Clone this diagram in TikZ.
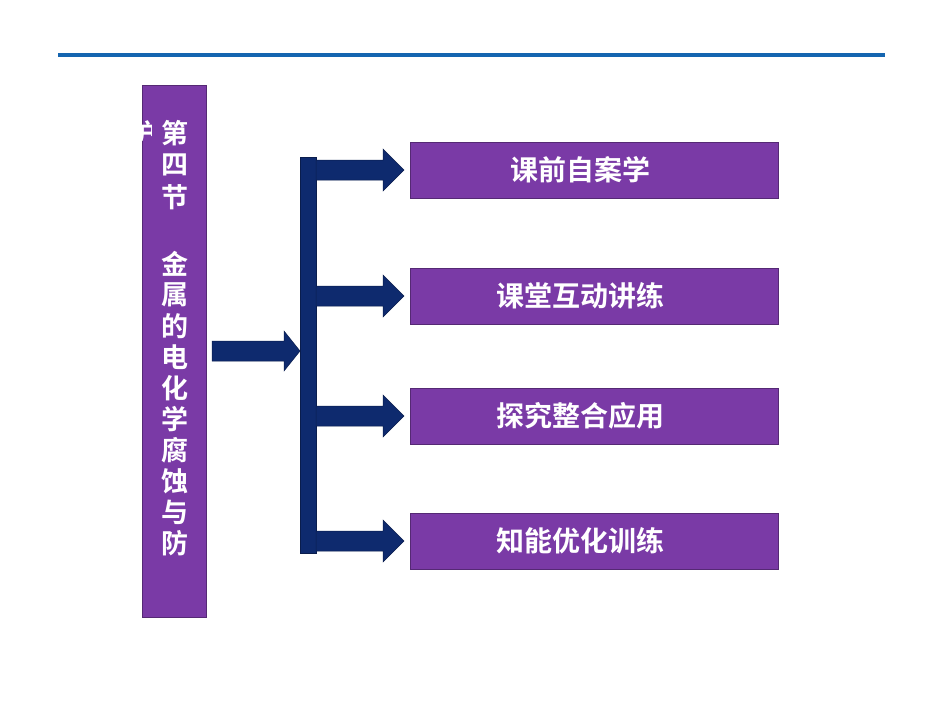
\documentclass[tikz,border=0pt]{standalone}
\usepackage{fontspec}
\newfontfamily\cjk{Noto Sans CJK SC Bold}
\definecolor{pur}{HTML}{7A3AA6}
\definecolor{navy}{HTML}{0E2A6E}
\definecolor{topblue}{HTML}{1565B0}
\begin{document}
\begin{tikzpicture}[x=1pt,y=-1pt,
  box/.style={fill=pur,draw=pur!70!black,line width=0.8pt,minimum width=368pt,minimum height=56pt,inner sep=0pt},
  lbl/.style={text=white,font=\cjk\fontsize{28}{28}\selectfont,inner sep=0pt},
  ch/.style={text=white,font=\cjk\fontsize{27}{27}\selectfont,inner sep=0pt},
  arr/.style={fill=navy,draw=navy!70!black,line width=0.5pt}]
\useasboundingbox (0,0) rectangle (950,713);
\draw[topblue,line width=3.5pt] (58,55) -- (885,55);
\node[fill=pur,draw=pur!70!black,minimum width=64pt,minimum height=532pt,inner sep=0pt,anchor=north west] (left) at (142,85) {};
\foreach \c/\y in {第/133,四/165,节/197,金/264,属/295,的/326,电/357,化/388,学/419,腐/450,蚀/481,与/512,防/543}
  \node[ch] at (175,\y) {\c};
\begin{scope}
\clip (138,85) rectangle (151,140);
\node[ch] (hu) at (143,133) {护};
\end{scope}
\draw[arr] (212,341) -- (284,341) -- (284,331) -- (300,351) -- (284,371) -- (284,361) -- (212,361) -- cycle;
\fill[navy] (300,157) rectangle (316,553);
\draw[navy!70!black,line width=0.5pt] (300,157) rectangle (316,553);
\foreach \y/\n/\t in {170/b1/课前自案学,296/b2/课堂互动讲练,416/b3/探究整合应用,541/b4/知能优化训练}{
  \draw[arr] (316,\y-10) -- (383,\y-10) -- (383,\y-21) -- (404,\y) -- (383,\y+21) -- (383,\y+10) -- (316,\y+10) -- cycle;
  \node[box,anchor=west] (\n) at (410,\y) {};
  \node[lbl] at (580,\y) {\t};
}
\end{tikzpicture}
\end{document}
